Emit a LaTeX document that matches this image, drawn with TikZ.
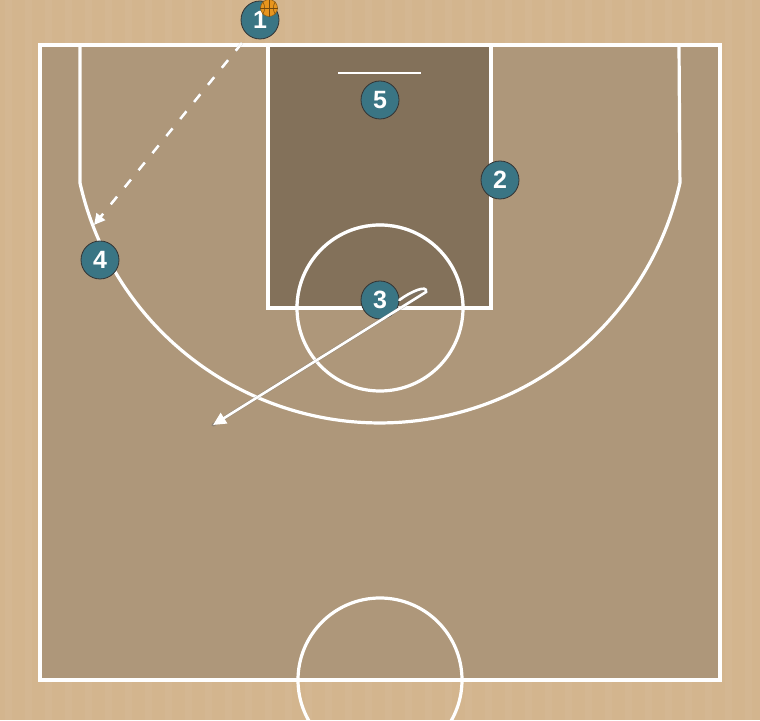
\documentclass[tikz,border=0pt]{standalone}
\usepackage{fontspec}
\setmainfont{Liberation Sans}
\usetikzlibrary{arrows.meta}
\definecolor{woodout}{HTML}{D3B58E}
\definecolor{woodin}{HTML}{AE977A}
\definecolor{paintc}{HTML}{83715A}
\definecolor{playerc}{HTML}{3A7584}
\definecolor{balll}{HTML}{E8951E}
\tikzset{
  court/.style={draw=white, line width=3.2pt},
  player/.style={circle, fill=playerc, draw=black!80, line width=0.8pt, minimum size=38pt, inner sep=0pt, text=white, font=\fontsize{25}{25}\selectfont\bfseries},
  move/.style={draw=white, line width=2.6pt, line cap=round, -{Triangle[width=12pt,length=13pt]}},
  moveshadow/.style={draw=black!55, opacity=0.5, line width=3.4pt, line cap=round},
  pass/.style={draw=white, line width=2.6pt, dash pattern=on 10pt off 12pt, -{Triangle[width=11pt,length=11pt]}},
}
\begin{document}
\begin{tikzpicture}[x=1pt,y=1pt]
\useasboundingbox (0,0) rectangle (760,720);
\clip (0,0) rectangle (760,720);
\fill[woodout] (0,0) rectangle (760,720);
\foreach \i in {0,...,37}{
  \fill[white, opacity=0.04] (\i*20+5,0) rectangle (\i*20+12,720);
}
% court floor
\fill[woodin] (40,40) rectangle (720,675);
% paint
\fill[paintc] (268,412) rectangle (491,675);
% court lines
\draw[court] (40,40) rectangle (720,675);
\draw[court] (268,675) -- (268,412) -- (491,412) -- (491,675);
\draw[court] (80,675) -- (80,537) arc[start angle=192.7, end angle=347.3, radius=307.5] -- (679,675);
\draw[court] (380,329) arc[start angle=-90, end angle=90, radius=83] ;
\draw[court] (380,329) arc[start angle=-90, end angle=-270, radius=83];
\draw[draw=white, opacity=0.45, line width=3.2pt] (297,412) arc[start angle=180, end angle=0, radius=83];
\draw[court] (380,40) circle[radius=82];
\draw[white, line width=1.8pt] (338,647) -- (421,647);
% players
\node[player] (p1) at (260,700) {1};
\node[player] (p2) at (500,540) {2};
\node[player] (p3) at (380,420) {3};
\node[player] (p4) at (100,460) {4};
\node[player] (p5) at (380,620) {5};
% ball
\node[circle, fill=balll, draw=balll!60!black, line width=0.5pt, minimum size=17pt, inner sep=0pt] (ball) at (269,712) {};
\draw[balll!50!black, line width=0.5pt] (ball.north) -- (ball.south) (ball.west) -- (ball.east);
\draw[balll!50!black, line width=0.5pt] (ball.north west) to[bend left=30] (ball.south west);
\draw[balll!50!black, line width=0.5pt] (ball.north east) to[bend right=30] (ball.south east);
% pass 1 -> 4
\coordinate (ps) at (242,677);
\coordinate (pe) at (94,495);
\draw[pass, draw=black!60, opacity=0.5, shift={(1.2pt,-1.2pt)}] (ps) -- (pe);
\draw[pass] (ps) -- (pe);
% move of 3
\coordinate (m1) at (426,428);
\coordinate (me) at (213,295);
\draw[moveshadow, shift={(1.2pt,-1.2pt)}] (p3.east) .. controls (410,428) and (428,436) .. (m1) -- (me);
\draw[move] (p3.east) .. controls (410,428) and (428,436) .. (m1) -- (me);
\end{tikzpicture}
\end{document}
